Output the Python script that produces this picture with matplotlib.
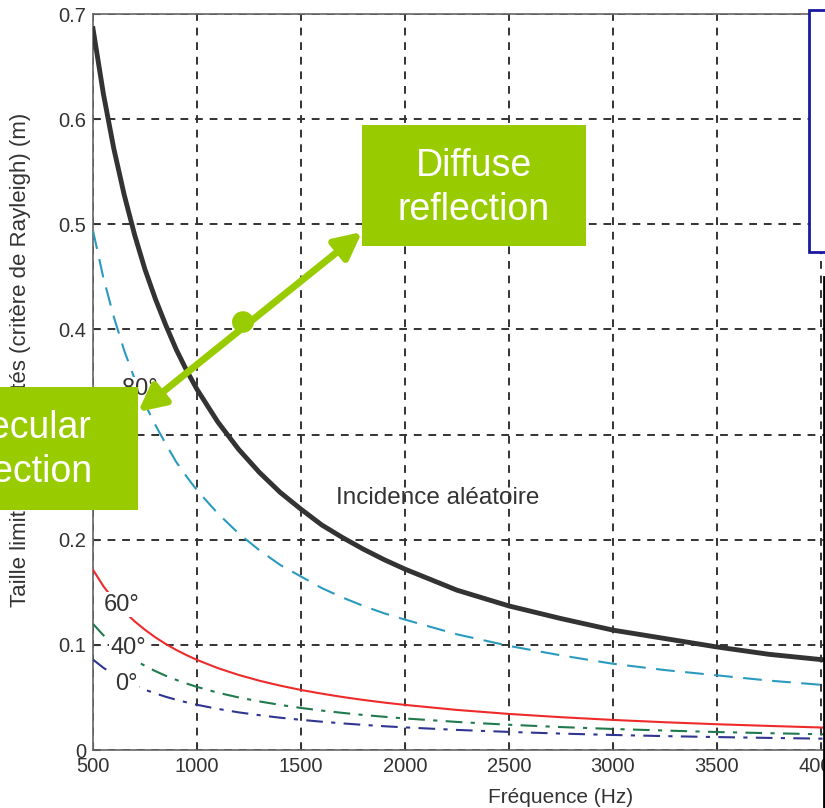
import matplotlib
matplotlib.use("Agg")
import matplotlib.pyplot as plt
from matplotlib.patches import Rectangle, Circle

plt.rcParams['font.family'] = ['Liberation Sans', 'DejaVu Sans']

# frequencies (Hz) and limiting roughness size (m)
freq = [500, 550, 600, 650, 700, 750, 800, 850, 900, 950, 1000, 1100, 1200, 1300, 1400, 1500,
        1600, 1700, 1800, 1900, 2000, 2250, 2500, 2750, 3000, 3250, 3500, 3750, 4000, 4500, 5000]
h_random = [0.686, 0.624, 0.572, 0.528, 0.490, 0.457, 0.429, 0.404, 0.381, 0.361, 0.343, 0.312,
            0.286, 0.264, 0.245, 0.229, 0.214, 0.202, 0.191, 0.181, 0.172, 0.152, 0.137, 0.125,
            0.114, 0.106, 0.098, 0.091, 0.086, 0.076, 0.069]
h_80 = [0.494, 0.449, 0.412, 0.380, 0.353, 0.329, 0.309, 0.291, 0.274, 0.260, 0.247, 0.225, 0.206,
        0.190, 0.176, 0.165, 0.154, 0.145, 0.137, 0.130, 0.124, 0.110, 0.099, 0.090, 0.082, 0.076,
        0.071, 0.066, 0.062, 0.055, 0.049]
h_60 = [0.1714, 0.1558, 0.1428, 0.1318, 0.1224, 0.1143, 0.1071, 0.1008, 0.0952, 0.0902, 0.0857,
        0.0779, 0.0714, 0.0659, 0.0612, 0.0571, 0.0536, 0.0504, 0.0476, 0.0451, 0.0429, 0.0381,
        0.0343, 0.0312, 0.0286, 0.0264, 0.0245, 0.0229, 0.0214, 0.0190, 0.0171]
h_40 = [0.1200, 0.1091, 0.1000, 0.0923, 0.0857, 0.0800, 0.0750, 0.0706, 0.0667, 0.0632, 0.0600,
        0.0545, 0.0500, 0.0462, 0.0429, 0.0400, 0.0375, 0.0353, 0.0333, 0.0316, 0.0300, 0.0267,
        0.0240, 0.0218, 0.0200, 0.0185, 0.0171, 0.0160, 0.0150, 0.0133, 0.0120]
h_0 = [0.0860, 0.0782, 0.0717, 0.0662, 0.0614, 0.0573, 0.0538, 0.0506, 0.0478, 0.0453, 0.0430,
       0.0391, 0.0358, 0.0331, 0.0307, 0.0287, 0.0269, 0.0253, 0.0239, 0.0226, 0.0215, 0.0191,
       0.0172, 0.0156, 0.0143, 0.0132, 0.0123, 0.0115, 0.0108, 0.0096, 0.0086]

xticks = [500, 1000, 1500, 2000, 2500, 3000, 3500, 4000, 4500, 5000]
yticks = [0, 0.1, 0.2, 0.3, 0.4, 0.5, 0.6, 0.7]

W, H = 825, 808
fig = plt.figure(figsize=(W / 100, H / 100), dpi=100)
# the plot runs on past the right edge of the picture (cropped slide)
ax = fig.add_axes([93 / W, 1 - 750 / H, (1029 - 93) / W, (750 - 14) / H])

ax.plot(freq, h_random, color='#333333', lw=3.5, zorder=3)
ax.plot(freq, h_80, color='#2a9bbf', lw=1.5, dashes=(9, 5), zorder=3)
ax.plot(freq, h_60, color='#ee2a2a', lw=1.5, zorder=3)
ax.plot(freq, h_40, color='#1f7a4d', lw=1.5, dashes=(8, 4, 2, 4), zorder=3)
ax.plot(freq, h_0, color='#2f3590', lw=1.5, dashes=(8, 4, 2, 4), zorder=3)

ax.set_xlim(500, 5000)
ax.set_ylim(0, 0.7)
ax.set_xticks(xticks)
ax.set_yticks(yticks)
ax.set_yticklabels(['0', '0.1', '0.2', '0.3', '0.4', '0.5', '0.6', '0.7'])
ax.grid(True, color='#333333', lw=1.4, linestyle=(0, (4, 3.5)))
ax.set_axisbelow(True)
ax.tick_params(direction='in', length=5, labelsize=14.5, colors='#333333', pad=5)
for s in ax.spines.values():
    s.set_color('#666666')
    s.set_linewidth(1.2)

ax.set_xlabel('Fréquence (Hz)', fontsize=15, color='#333333', labelpad=9)
ax.set_ylabel('Taille limite des aspérités (critère de Rayleigh) (m)', fontsize=16, color='#333333')
ax.yaxis.set_label_coords(-0.0665, 0.53)

lab = dict(fontsize=17, color='#333333', ha='center', va='center', zorder=4,
           bbox=dict(facecolor='white', edgecolor='none', pad=1))
ax.text(726, 0.343, '80°', **lab)
ax.text(640, 0.138, '60°', **lab)
ax.text(668, 0.097, '40°', **lab)
ax.text(659, 0.063, '0°', **lab)
ax.text(2159, 0.240, 'Incidence aléatoire', fontsize=17.5, color='#333333',
        ha='center', va='center', zorder=4)

# slide overlays: blue frame at top right and a dark edge line
fig.patches.append(Rectangle((809 / W, 1 - 252 / H), 0.2, 0.3, transform=fig.transFigure,
                             facecolor='white', edgecolor='#1a1aa0', lw=2, zorder=10))
fig.add_artist(plt.Line2D([823.5 / W, 823.5 / W], [0, 1 - 277 / H], color='black', lw=2, zorder=10))

green = '#99cc00'
fig.patches.append(Rectangle((362 / W, 1 - 246 / H), 224 / W, 121 / H, transform=fig.transFigure,
                             facecolor=green, edgecolor='none', zorder=10))
fig.patches.append(Rectangle((-112 / W, 1 - 510 / H), 250 / W, 123 / H, transform=fig.transFigure,
                             facecolor=green, edgecolor='none', zorder=10))
fig.text(474 / W, 1 - 188 / H, 'Diffuse\nreflection', fontsize=27,
         color='white', ha='center', va='center', linespacing=1.3, zorder=11)
fig.text(17 / W, 1 - 450 / H, 'Specular\nreflection', fontsize=27,
         color='white', ha='center', va='center', linespacing=1.3, zorder=11)

ax.annotate('', xy=(138, H - 412), xytext=(362, H - 232),
            xycoords='figure pixels', textcoords='figure pixels',
            arrowprops=dict(arrowstyle='<|-|>,head_length=1.6,head_width=0.8',
                            color=green, lw=5, shrinkA=0, shrinkB=0),
            zorder=12, annotation_clip=False)
fig.patches.append(Circle((243 / W, 1 - 322 / H), 11 / W, transform=fig.transFigure,
                          facecolor=green, edgecolor='none', zorder=12))

fig.savefig('out.png', dpi=100)
